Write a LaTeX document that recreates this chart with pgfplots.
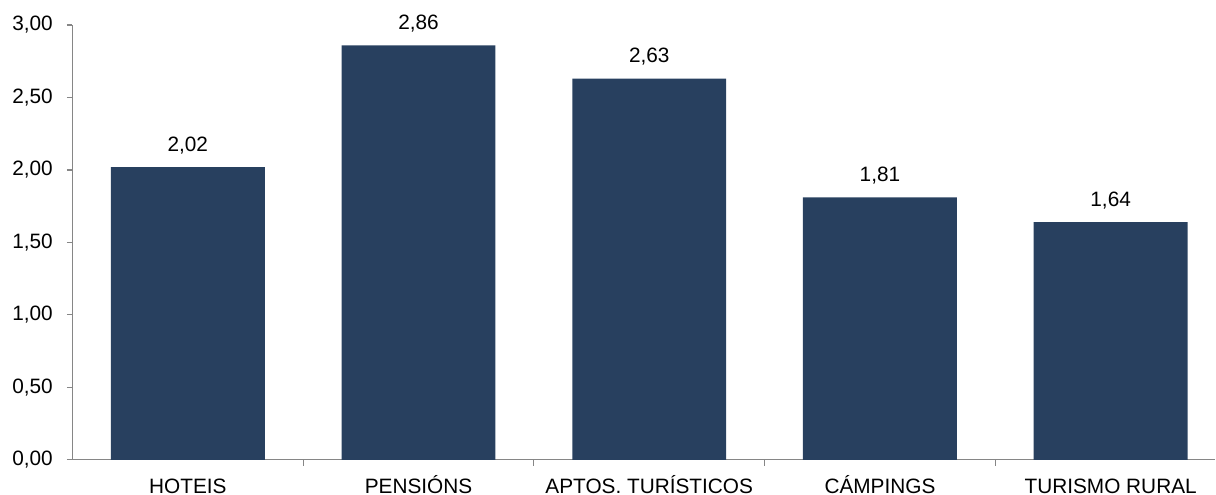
\documentclass[border=0pt]{standalone}
\usepackage{pgfplots}
\pgfplotsset{compat=1.18}
\usepackage{fontspec}
\setmainfont{Liberation Sans}
\definecolor{barblue}{HTML}{28405F}
\definecolor{axgray}{HTML}{868686}
\begin{document}
\begin{tikzpicture}
\begin{axis}[
  name=ax,
  scale only axis,
  width=1143.5pt, height=435pt,
  xmin=-0.5, xmax=4.454,
  ymin=0, ymax=3,
  axis x line*=bottom, axis y line*=left,
  axis line style={draw=axgray, line width=1.2pt},
  every tick/.style={draw=axgray, line width=1.2pt},
  xtick={0,1,2,3,4},
  xticklabels={HOTEIS,PENSIÓNS,APTOS. TURÍSTICOS,CÁMPINGS,TURISMO RURAL},
  major x tick style={draw=none},
  minor xtick={0.5,1.5,2.5,3.5},
  minor tick length=6pt,
  tick align=outside,
  ytick={0,0.5,...,3},
  major tick length=5.5pt,
  xticklabel style={font=\fontsize{20.8}{24}\selectfont, anchor=base, inner sep=0pt, yshift=-28pt},
  yticklabel style={font=\fontsize{20.8}{24}\selectfont, anchor=east, inner sep=0pt, xshift=-14pt},
  /pgf/number format/.cd, use comma, fixed, fixed zerofill, precision=2, 1000 sep={}, assume math mode=true,
  /pgfplots/.cd,
  ybar, bar width=154pt, bar shift=0pt,
  nodes near coords,
  nodes near coords style={font=\fontsize{20.8}{24}\selectfont, anchor=base, inner sep=0pt, yshift=16pt,
    /pgf/number format/.cd, use comma, fixed, fixed zerofill, precision=2, assume math mode=true},
  clip=false,
]
\addplot[fill=barblue, draw=none] coordinates {(0,2.02) (1,2.86) (2,2.63) (3,1.81) (4,1.64)};
\end{axis}
\path (ax.south west) ++(-72.5pt,-35pt) coordinate (bl);
\path (ax.north east) ++(0pt,25pt) coordinate (tr);
\path[use as bounding box] (bl) rectangle (tr);
\end{tikzpicture}
\end{document}
